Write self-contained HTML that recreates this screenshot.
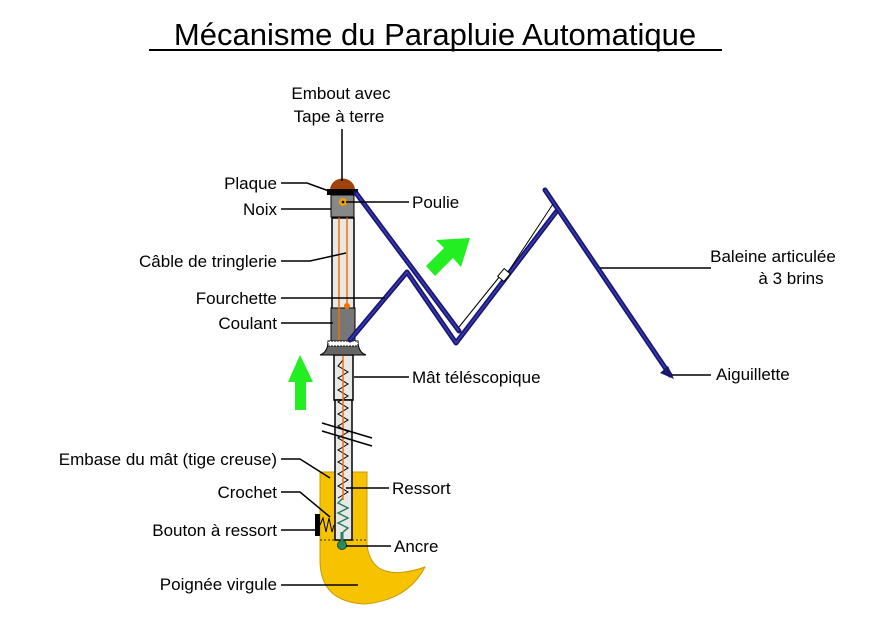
<!DOCTYPE html>
<html><head><meta charset="utf-8"><style>
html,body{margin:0;padding:0;background:#fff;}
svg{display:block;}
text{font-family:"Liberation Sans",Arial,sans-serif;font-size:17px;fill:#000;}
</style></head><body>
<svg width="880" height="631" viewBox="0 0 880 631" xmlns="http://www.w3.org/2000/svg">
<text x="435" y="45" text-anchor="middle" style="font-size:31px">Mécanisme du Parapluie Automatique</text>
<line x1="149" y1="50" x2="722" y2="50" stroke="#000" stroke-width="2"/>

<!-- handle -->
<path d="M320,472 L367,472 L367,545 Q372,585 425,567 Q408,600 365,604 Q320,602 320,560 Z" fill="#f7c200" stroke="#c99a00" stroke-width="1"/>
<line x1="320" y1="540" x2="367" y2="540" stroke="#333" stroke-width="1" stroke-dasharray="2,2"/>
<rect x="315" y="514" width="5" height="22" fill="#000"/>
<polyline points="320,525 323,518 326,532 329,518 332,532 334,525" fill="none" stroke="#000" stroke-width="1"/>

<!-- mast -->
<rect x="332" y="218" width="22" height="92" fill="#e8e8e8" stroke="#000" stroke-width="1.5"/>
<rect x="334" y="355" width="19" height="45" fill="#e8e8e8" stroke="#000" stroke-width="1.5"/>
<rect x="335" y="400" width="17" height="140" fill="#e8e8e8" stroke="#000" stroke-width="1.5"/>
<polyline points="343,360 338,366 348,372 338,378 348,384 338,390 348,396 338,402 348,408 338,414 348,420 338,426 348,432 338,438 348,444 338,450 348,456 338,462 348,468 338,474 348,480 338,486 348,492 338,498" fill="none" stroke="#000" stroke-width="1"/>
<polyline points="343,498 338,503 348,508 338,513 348,518 338,523 348,528 343,532" fill="none" stroke="#2a8060" stroke-width="1.5"/>
<line x1="343" y1="340" x2="343" y2="500" stroke="#f07000" stroke-width="1.5"/>
<circle cx="342" cy="545" r="4.5" fill="#2a9060" stroke="#105030"/>
<line x1="342" y1="532" x2="342" y2="545" stroke="#2a8060" stroke-width="3"/>
<line x1="322" y1="423" x2="372" y2="438" stroke="#000" stroke-width="1.5"/>
<line x1="322" y1="431" x2="372" y2="446" stroke="#000" stroke-width="1.5"/>

<!-- coulant -->
<rect x="331" y="308" width="24" height="33" fill="#777" stroke="#000" stroke-width="1"/>
<path d="M328,341 L358,341 Q358,352 366,355 L320,355 Q328,352 328,341Z" fill="#666" stroke="#000" stroke-width="1"/>
<rect x="328" y="341" width="30" height="5" fill="#fff" stroke="#000" stroke-width="1" stroke-dasharray="2,1"/>

<!-- cable -->
<line x1="339" y1="204" x2="339" y2="340" stroke="#f07000" stroke-width="1.5"/>
<line x1="347" y1="204" x2="347" y2="306" stroke="#f07000" stroke-width="1.5"/>
<circle cx="347" cy="306" r="3" fill="#f07000"/>

<!-- noix, plaque, embout -->
<path d="M330,190 A12,11 0 0 1 355,190 Z" fill="#a0420c"/>
<rect x="327" y="189" width="31" height="6" fill="#000"/>
<rect x="331" y="195" width="23" height="22" fill="#888" stroke="#000" stroke-width="1"/>
<circle cx="343" cy="202" r="4" fill="#f0a000"/>
<circle cx="343" cy="202" r="1.3" fill="#000"/>

<!-- ribs -->
<g stroke="#181870" stroke-width="5" fill="none" stroke-linecap="round" stroke-linejoin="round">
<line x1="356" y1="193" x2="459" y2="331"/>
<polyline points="350,340 407,272 456,343 556,212"/>
<line x1="545" y1="190" x2="670" y2="375"/>
</g>
<g stroke="#3a3ab8" stroke-width="1.5" fill="none" stroke-linejoin="round">
<line x1="356" y1="193" x2="459" y2="331"/>
<polyline points="350,340 407,272 456,343 556,212"/>
<line x1="545" y1="190" x2="670" y2="375"/>
</g>
<polygon points="674,379 660,373 668,366" fill="#181870"/>
<line x1="459" y1="327" x2="500" y2="276" stroke="#000" stroke-width="1"/>
<line x1="508" y1="272" x2="553" y2="204" stroke="#000" stroke-width="1"/>
<rect x="499" y="271" width="10" height="8" fill="#fff" stroke="#000" stroke-width="1" transform="rotate(-50 504 275)"/>

<!-- green arrows -->
<polygon points="288,382 300,355 313,382 306,382 306,410 295,410 295,382" fill="#22ee22"/>
<polygon points="470,238 461,267 453,258 435,276 426,266 444,248 436,240" fill="#22ee22"/>

<!-- leader lines -->
<g stroke="#000" stroke-width="1.5" fill="none">
<line x1="342" y1="129" x2="342" y2="181"/>
<polyline points="281,183 307,183 329,191"/>
<line x1="281" y1="209" x2="331" y2="209"/>
<line x1="346" y1="202" x2="409" y2="202"/>
<polyline points="281,261 310,261 346,253"/>
<line x1="281" y1="298" x2="385" y2="298"/>
<line x1="281" y1="323" x2="333" y2="323"/>
<line x1="354" y1="377" x2="409" y2="377"/>
<polyline points="281,459 300,459 330,478"/>
<polyline points="281,492 300,492 330,517"/>
<line x1="281" y1="530" x2="316" y2="530"/>
<line x1="346" y1="488" x2="389" y2="488"/>
<line x1="346" y1="546" x2="391" y2="546"/>
<line x1="281" y1="585" x2="358" y2="585"/>
<line x1="600" y1="268" x2="711" y2="268"/>
<line x1="672" y1="375" x2="711" y2="375"/>
</g>

<!-- labels -->
<text x="341" y="99" text-anchor="middle">Embout avec</text>
<text x="339" y="122" text-anchor="middle">Tape à terre</text>
<text x="277" y="189" text-anchor="end">Plaque</text>
<text x="277" y="215" text-anchor="end">Noix</text>
<text x="412" y="208">Poulie</text>
<text x="277" y="267" text-anchor="end">Câble de tringlerie</text>
<text x="277" y="304" text-anchor="end">Fourchette</text>
<text x="277" y="329" text-anchor="end">Coulant</text>
<text x="412" y="383">Mât téléscopique</text>
<text x="773" y="262" text-anchor="middle">Baleine articulée</text>
<text x="791" y="284" text-anchor="middle">à 3 brins</text>
<text x="716" y="380">Aiguillette</text>
<text x="277" y="465" text-anchor="end">Embase du mât (tige creuse)</text>
<text x="277" y="498" text-anchor="end">Crochet</text>
<text x="392" y="494">Ressort</text>
<text x="277" y="536" text-anchor="end">Bouton à ressort</text>
<text x="394" y="552">Ancre</text>
<text x="277" y="590" text-anchor="end">Poignée virgule</text>
</svg>
</body></html>
